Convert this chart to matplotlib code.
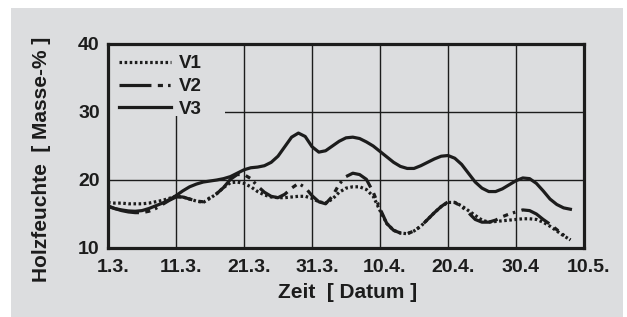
import matplotlib
matplotlib.use("Agg")
from matplotlib import pyplot as plt
from matplotlib import transforms
from matplotlib.patches import Rectangle

# days after 1.3.
days = list(range(0, 69))

v1 = [16.7, 16.6, 16.6, 16.5, 16.5, 16.5, 16.6, 16.8, 17.0, 17.3,
      17.6, 17.5, 17.2, 16.9, 16.7, 17.3, 18.0, 18.9, 19.6, 19.7,
      19.5, 19.0, 18.3, 17.8, 17.5, 17.4, 17.4, 17.5, 17.6, 17.6,
      17.3, 16.8, 16.6, 17.2, 18.2, 18.8, 19.0, 19.0, 18.6, 17.6,
      15.5, 13.6, 12.6, 12.2, 12.1, 12.5, 13.2, 14.2, 15.2, 16.1,
      16.7, 16.7, 16.2, 15.5, 14.8, 14.1, 13.8, 13.9, 14.0, 14.1,
      14.2, 14.3, 14.3, 14.2, 13.8, 13.2, 12.5, 11.8, 11.2]

v2 = [16.2, 15.8, 15.5, 15.3, 15.2, 15.2, 15.4, 15.8, 16.4, 17.0,
      17.5, 17.5, 17.2, 16.9, 16.8, 17.4, 18.0, 18.9, 20.1, 20.8,
      20.8, 20.2, 19.1, 18.2, 17.6, 17.4, 17.9, 18.8, 19.5, 18.9,
      17.7, 16.8, 16.5, 17.6, 19.4, 20.5, 21.0, 20.8, 20.1, 18.2,
      15.8, 13.6, 12.6, 12.2, 12.1, 12.5, 13.2, 14.2, 15.2, 16.1,
      16.8, 16.7, 16.1, 15.2, 14.2, 13.8, 13.8, 14.1, 14.6, 15.0,
      15.3, 15.6, 15.5, 15.0, 14.2, 13.5, 12.7, 11.9, 11.2]

v3 = [16.1, 15.8, 15.6, 15.45, 15.4, 15.5, 15.8, 16.2, 16.6, 17.1,
      17.7, 18.4, 19.0, 19.4, 19.7, 19.85, 20.0, 20.2, 20.5, 21.0,
      21.5, 21.8, 21.9, 22.1, 22.6, 23.5, 24.9, 26.3, 26.9, 26.4,
      24.9, 24.1, 24.3, 25.0, 25.7, 26.2, 26.3, 26.1, 25.6, 25.0,
      24.2, 23.4, 22.6, 22.0, 21.7, 21.7, 22.1, 22.6, 23.1, 23.5,
      23.6, 23.2, 22.3, 21.0, 19.7, 18.8, 18.3, 18.3, 18.7, 19.3,
      19.9, 20.3, 20.2, 19.5, 18.4, 17.2, 16.4, 15.9, 15.7]

tick_days = [0, 10, 20, 30, 40, 50, 60, 70]
tick_labels = ["1.3.", "11.3.", "21.3.", "31.3.", "10.4.", "20.4.", "30.4", "10.5."]
y_ticks = [10, 20, 30, 40]

bg = "#dcdddf"
ink = "#1c1c1c"
font = "Liberation Sans"

fig = plt.figure(figsize=(6.27, 3.17), dpi=100)
fig.patch.set_facecolor("white")
fig.patches.append(Rectangle((11 / 627, 0), 612 / 627, 1 - 8 / 317,
                             transform=fig.transFigure, facecolor=bg,
                             edgecolor="none", zorder=-10))

ax = fig.add_axes([108 / 627, 1 - 248 / 317, 476 / 627, 204 / 317])
ax.set_facecolor(bg)
ax.set_axisbelow(True)

lw = 2.3
ax.plot(days, v1, color=ink, lw=lw, linestyle=(0, (0.8, 0.8)),
        dash_capstyle="butt", label="V1", zorder=3)
ax.plot(days, v2, color=ink, lw=lw,
        linestyle=(0, (10.0, 2.0, 1.6, 1.6, 0.8, 2.0)),
        dash_capstyle="butt", label="V2", zorder=3)
ax.plot(days, v3, color=ink, lw=lw, label="V3", zorder=3)

ax.set_xlim(0, 70)
ax.set_ylim(10, 40)
ax.set_xticks(tick_days)
ax.set_xticklabels(tick_labels)
ax.set_yticks(y_ticks)
ax.grid(True, color=ink, lw=1.0)
ax.tick_params(length=0, labelsize=14, colors=ink)
ax.tick_params(axis="x", pad=8)
ax.tick_params(axis="y", pad=6)
for lab in ax.get_xticklabels() + ax.get_yticklabels():
    lab.set_fontfamily(font)
    lab.set_fontweight("bold")
offset = transforms.ScaledTranslation(0.05, 0, fig.dpi_scale_trans)
for lab in ax.get_xticklabels():
    lab.set_transform(lab.get_transform() + offset)

for sp in ax.spines.values():
    sp.set_linewidth(2.3)
    sp.set_color(ink)
    sp.set_zorder(4)

# patch behind the legend that hides the grid there
ax.add_patch(Rectangle((0, (248 - 116) / 204), (225 - 108) / 476,
                       1 - (248 - 116) / 204, transform=ax.transAxes,
                       facecolor=bg, edgecolor="none", zorder=1))

leg = ax.legend(loc="upper left", bbox_to_anchor=(0.0, 1.0), frameon=False,
                handlelength=2.75, handletextpad=0.45, labelspacing=0.3,
                borderaxespad=0.3, borderpad=0.3,
                prop={"family": font, "weight": "bold", "size": 13.5})
for t in leg.get_texts():
    t.set_color(ink)
leg.set_zorder(5)

fig.text(42 / 627, 1 - 159 / 317, "Holzfeuchte  [ Masse-% ]", rotation=90,
         ha="center", va="center", fontsize=15, fontweight="bold",
         family=font, color=ink)
fig.text(348 / 627, 1 - 292 / 317, "Zeit  [ Datum ]", ha="center",
         va="center", fontsize=15, fontweight="bold", family=font, color=ink)

fig.savefig("out.png", dpi=100, facecolor=fig.get_facecolor())
